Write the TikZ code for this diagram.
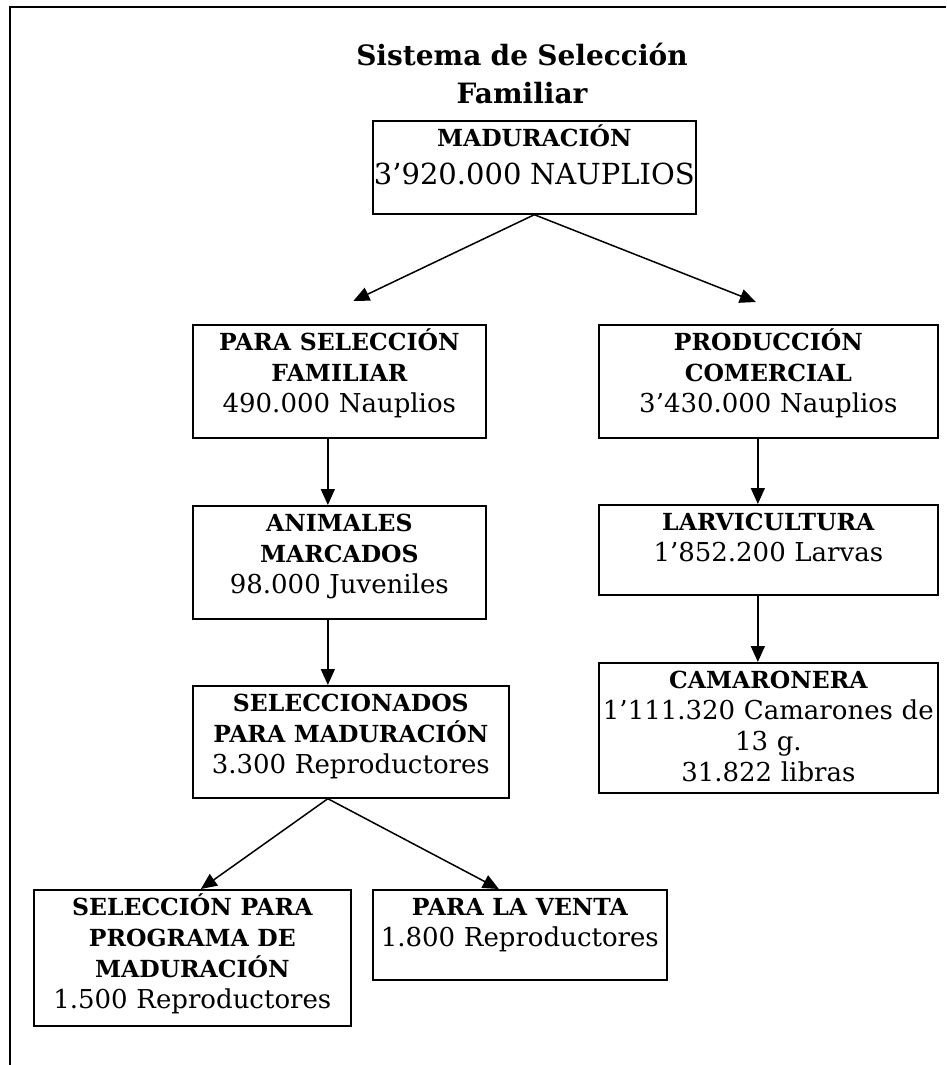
\documentclass[tikz,border=0pt]{standalone}
\usepackage{fontspec}
\setmainfont{DejaVu Serif}
\usetikzlibrary{arrows.meta}

\newcommand{\negr}[1]{{\bfseries\fontsize{23.5}{31}\selectfont #1}}

\tikzset{
  caja/.style={draw, line width=1.7pt, anchor=north west, align=center,
    inner xsep=0pt, inner ysep=6pt, text height=20pt,
    font=\fontsize{26}{31}\selectfont},
  flecha/.style={line width=1.5pt, -{Triangle[length=16pt,width=14pt]}},
  titulo/.style={anchor=north, align=center, inner sep=0pt, text height=20pt,
    font=\bfseries\fontsize{28}{38}\selectfont}
}

\begin{document}
\begin{tikzpicture}[x=1pt,y=-1pt]
\useasboundingbox (0,0) rectangle (946,1065);
\draw[line width=2pt] (10,1065) -- (10,7) -- (946,7);

\node[titulo, text width=420pt] (tit) at (522,45) {Sistema de Selección\\Familiar};

\node[caja, text width=323pt, text depth=61pt] (mad) at (372,120)
  {\negr{MADURACIÓN}\\[7pt]{\fontsize{29}{38}\selectfont 3’920.000 NAUPLIOS}};

\node[caja, text width=293pt, text depth=81pt] (famil) at (192,324)
  {\negr{PARA SELECCIÓN}\\\negr{FAMILIAR}\\490.000 Nauplios};
\node[caja, text width=293pt, text depth=81pt] (marcados) at (192,505)
  {\negr{ANIMALES}\\\negr{MARCADOS}\\98.000 Juveniles};
\node[caja, text width=316pt, text depth=80pt] (selmad) at (192,685)
  {\negr{SELECCIONADOS}\\\negr{PARA MADURACIÓN}\\3.300 Reproductores};
\node[caja, text width=317pt, text depth=104pt] (progmad) at (33,889)
  {\negr{SELECCIÓN PARA}\\\negr{PROGRAMA DE}\\\negr{MADURACIÓN}\\1.500 Reproductores};
\node[caja, text width=294pt, text depth=58pt] (venta) at (372,889)
  {\negr{PARA LA VENTA}\\1.800 Reproductores};

\node[caja, text width=339pt, text depth=81pt] (prod) at (598,324)
  {\negr{PRODUCCIÓN}\\\negr{COMERCIAL}\\3’430.000 Nauplios};
\node[caja, text width=339pt, text depth=58pt] (larv) at (598,504)
  {\negr{LARVICULTURA}\\1’852.200 Larvas};
\node[caja, text width=339pt, text depth=98pt] (camar) at (598,662)
  {\negr{CAMARONERA}\\1’111.320 Camarones de\\13 g.\\31.822 libras};

\draw[flecha] (mad.south) -- ([xshift=14pt,yshift=23pt]famil.north);
\draw[flecha] (mad.south) -- ([xshift=-12.5pt,yshift=22pt]prod.north);
\draw[flecha] ([xshift=-11.5pt]famil.south) -- ([xshift=-11.5pt]marcados.north);
\draw[flecha] ([xshift=-11.5pt]marcados.south) -- ([xshift=-11.5pt]marcados.south |- selmad.north);
\draw[flecha] ([xshift=-10.5pt]prod.south) -- ([xshift=-10.5pt]larv.north);
\draw[flecha] ([xshift=-10.5pt]larv.south) -- ([xshift=-10.5pt]camar.north);
\draw[flecha] ([xshift=-23pt]selmad.south) -- ([xshift=8.5pt]progmad.north);
\draw[flecha] ([xshift=-23pt]selmad.south) -- ([xshift=-21pt]venta.north);
\end{tikzpicture}
\end{document}
